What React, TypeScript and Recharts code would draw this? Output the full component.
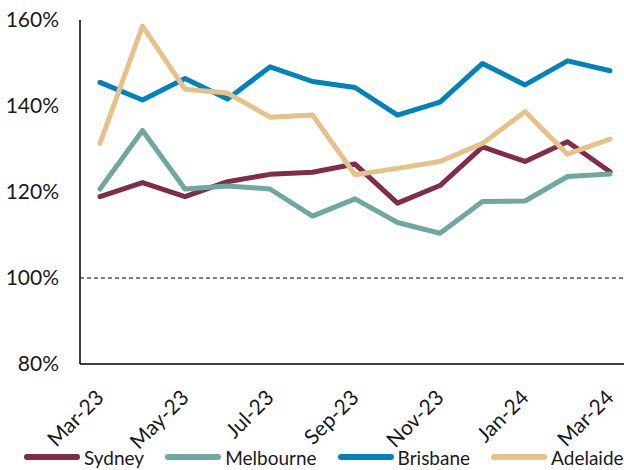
import React from "react";
import { LineChart, Line, XAxis, YAxis, ReferenceLine, Legend } from "recharts";

const months = [
  "Mar-23", "Apr-23", "May-23", "Jun-23", "Jul-23", "Aug-23", "Sep-23",
  "Oct-23", "Nov-23", "Dec-23", "Jan-24", "Feb-24", "Mar-24",
];
const sydney = [118.9, 122.2, 118.9, 122.4, 124.1, 124.6, 126.5, 117.4, 121.5, 130.5, 127.1, 131.7, 124.7];
const melbourne = [120.7, 134.3, 120.7, 121.4, 120.7, 114.4, 118.4, 112.9, 110.4, 117.8, 117.9, 123.6, 124.2];
const brisbane = [145.5, 141.4, 146.4, 141.6, 149.1, 145.7, 144.3, 137.9, 140.9, 149.9, 144.9, 150.5, 148.2];
const adelaide = [131.3, 158.6, 143.9, 143.0, 137.4, 137.9, 124.0, 125.5, 127.1, 131.3, 138.7, 128.8, 132.3];
const yTicks = [80, 100, 120, 140, 160];

const series = [
  { key: "Sydney", color: "#7f2d48" },
  { key: "Melbourne", color: "#6fa8a0" },
  { key: "Brisbane", color: "#0082ba" },
  { key: "Adelaide", color: "#e6c28b" },
];

const data = months.map((m, i) => ({
  month: m,
  Sydney: sydney[i],
  Melbourne: melbourne[i],
  Brisbane: brisbane[i],
  Adelaide: adelaide[i],
}));

const FONT = "Lato, 'Open Sans', sans-serif";

// rotated month labels, anchored at their end just below the axis
const MonthTick = (props: any) => {
  const { x, y, payload } = props;
  return (
    <g transform={`translate(${x + 5},${y + 27})`}>
      <text
        x={0}
        y={0}
        textAnchor="end"
        transform="rotate(-45)"
        fontFamily={FONT}
        fontSize={21}
        fill="#1a1a1a"
      >
        {payload.value}
      </text>
    </g>
  );
};

const LegendRow = () => (
  <div
    style={{
      display: "flex",
      justifyContent: "flex-start",
      alignItems: "center",
      height: 24,
      paddingLeft: 24,
      fontFamily: FONT,
      fontSize: 19,
      color: "#1a1a1a",
    }}
  >
    {series.map((s) => (
      <div key={s.key} style={{ display: "flex", alignItems: "center", marginRight: 21 }}>
        <svg width={56} height={8} style={{ marginRight: 4 }}>
          <line x1={3} y1={4} x2={53} y2={4} stroke={s.color} strokeWidth={6} strokeLinecap="round" />
        </svg>
        <span>{s.key}</span>
      </div>
    ))}
  </div>
);

const App = () => {
  return (
    <div style={{ position: "absolute", left: 0, top: 0 }}>
      <LineChart
        width={624}
        height={470}
        data={data}
        margin={{ top: 20, right: 0, left: 0, bottom: 1 }}
      >
        <XAxis
          dataKey="month"
          interval={1}
          height={81}
          tickLine={false}
          axisLine={{ stroke: "#000", strokeWidth: 1.5 }}
          padding={{ left: 20, right: 14 }}
          tick={<MonthTick />}
        />
        <YAxis
          domain={[80, 160]}
          ticks={yTicks}
          width={80}
          tickLine={false}
          tickSize={0}
          tickMargin={21}
          axisLine={{ stroke: "#000", strokeWidth: 1.5 }}
          tickFormatter={(v: number) => `${v}%`}
          tick={{ fontFamily: FONT, fontSize: 21, fill: "#1a1a1a" }}
        />
        <ReferenceLine y={100} stroke="#000" strokeWidth={1} strokeDasharray="4 3" />
        <Legend verticalAlign="bottom" content={<LegendRow />} />
        {series.map((s) => (
          <Line
            key={s.key}
            type="linear"
            dataKey={s.key}
            stroke={s.color}
            strokeWidth={5}
            dot={false}
            strokeLinejoin="round"
            strokeLinecap="round"
            isAnimationActive={false}
          />
        ))}
      </LineChart>
    </div>
  );
};

export default App;
